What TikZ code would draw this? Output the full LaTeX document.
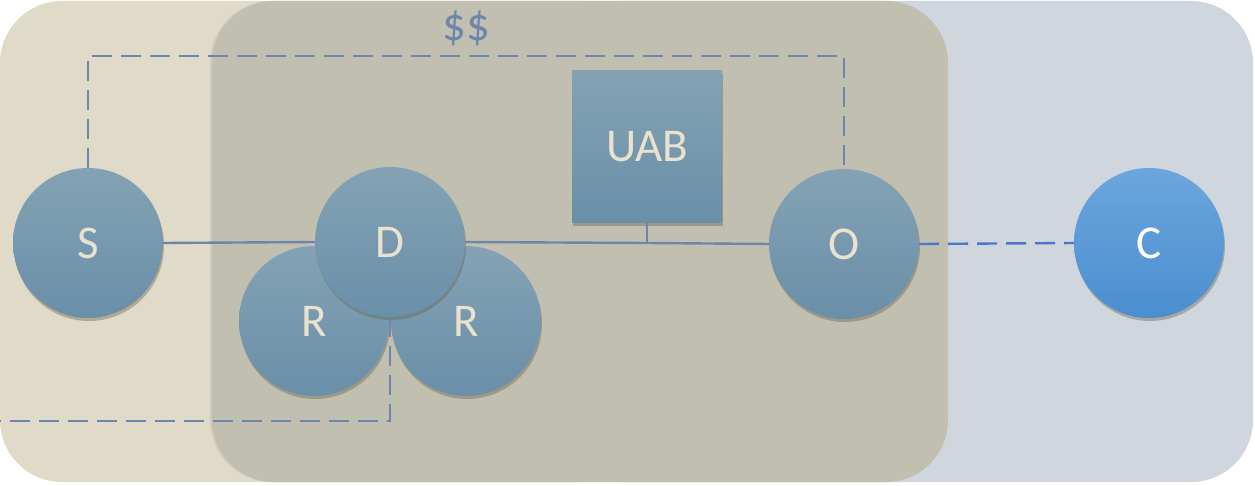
\documentclass[tikz,border=0pt]{standalone}
\usepackage{fontspec}
\setmainfont{Carlito}
\usetikzlibrary{shadows,calc}
\definecolor{beige}{HTML}{E0DAC8}
\definecolor{bluegrey}{HTML}{CFD6DE}
\definecolor{midgrey}{HTML}{C1BFB0}
\definecolor{nodetop}{HTML}{84A2B4}
\definecolor{nodebot}{HTML}{6A8FA8}
\definecolor{ctop}{HTML}{6CA6DD}
\definecolor{cbot}{HTML}{4A8ED0}
\definecolor{linec}{HTML}{6E86AC}
\definecolor{linec2}{HTML}{4A78C8}
\definecolor{txtc}{HTML}{E8E2CE}
\definecolor{shadowc}{HTML}{6A6048}
\tikzset{
  bigfont/.style={font=\fontsize{47}{50}\selectfont},
  circnode/.style={circle, minimum size=150pt, inner sep=0pt, top color=nodetop, bottom color=nodebot,
     text=txtc, bigfont, drop shadow={shadow xshift=1pt, shadow yshift=-3pt, opacity=0.4, fill=shadowc}},
  cnode/.style={circnode, top color=ctop, bottom color=cbot, text=white},
  boxnode/.style={rectangle, minimum width=150pt, minimum height=152pt, inner sep=0pt, top color=nodetop, bottom color=nodebot,
     text=txtc, bigfont, drop shadow={shadow xshift=1pt, shadow yshift=-3pt, opacity=0.4, fill=shadowc}},
  conn/.style={draw=linec, line width=2.4pt},
  dconn/.style={draw=linec, line width=2.4pt, dash pattern=on 20pt off 9pt},
  region/.style={rounded corners=62pt}
}
\begin{document}
\begin{tikzpicture}[x=1pt,y=-1pt]
\useasboundingbox (0,0) rectangle (1255,486);
% background regions
\fill[bluegrey, region] (560,1) rectangle (1253,482);
\fill[beige, region] (0,1) rectangle (640,482);
\fill[midgrey, region, drop shadow={shadow xshift=-2pt, shadow yshift=0pt, opacity=0.15}] (212,1) rectangle (948,482);
% nodes
\node[circnode] (S) at (88,243) {S};
\node[circnode] (R1) at (314,321) {R};
\node[circnode] (R2) at (466,321) {R};
\node[circnode] (D) at (390,242) {D};
\node[boxnode] (U) at (647,147) {UAB};
\node[circnode] (O) at (844,244) {O};
\node[cnode] (C) at (1149,243) {C};
\node[text=linec, bigfont, inner sep=0pt] (M) at (466,28) {\$\$};
% connectors
\coordinate (tl) at (88,56);
\coordinate (tr) at (844,56);
\coordinate (bl) at (0,421);
\coordinate (bc) at (390,421);
\coordinate (junc) at (647,243);
\draw[conn] (S.east) -- (D.west);
\draw[conn] (D.east) -- (junc) -- (O.west);
\draw[conn] (U.south) -- (junc);
\draw[dconn] (S.north) -- (tl) -- (tr) -- (O.north);
\draw[dconn] (D.south) -- (bc) -- (bl);
\draw[dconn, draw=linec2] (O.east) -- (C.west);
\end{tikzpicture}
\end{document}
